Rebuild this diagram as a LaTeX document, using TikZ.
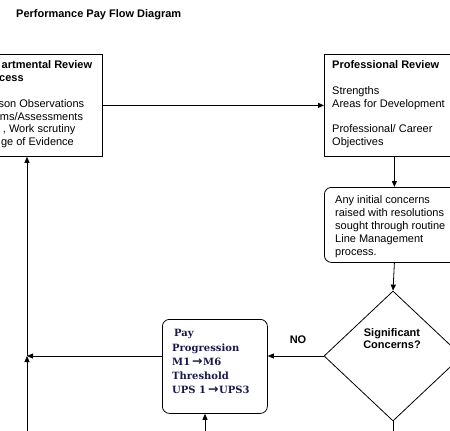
\documentclass[tikz,border=0pt]{standalone}
\usepackage{fontspec}
\setmainfont{Liberation Sans}
\newfontfamily\payfont{DejaVu Serif}
\newfontfamily\arrfont{DejaVu Sans}
\usetikzlibrary{arrows.meta,shapes.geometric}
\definecolor{navy}{RGB}{25,25,75}
\newcommand{\payarrow}{\hspace{2pt}{\arrfont\bfseries\fontsize{12.5}{14.2}\selectfont →}\hspace{0.5pt}}
\tikzset{
  box/.style={draw, line width=0.8pt, inner sep=0pt, anchor=north west},
  rbox/.style={box, rounded corners=7pt},
  txt/.style={inner sep=0pt, anchor=north west, align=left, font=\fontsize{11}{12.8}\selectfont},
  paytxt/.style={inner sep=0pt, anchor=north west, align=left, text=navy, font=\payfont\bfseries\fontsize{10}{14.2}\selectfont},
  arr/.style={line width=0.8pt, -{Triangle[length=6pt,width=5pt]}},
  ln/.style={line width=0.8pt}
}
\begin{document}
\begin{tikzpicture}[x=1pt,y=-1pt]
\useasboundingbox (0,0) rectangle (450,431);
\clip (0,0) rectangle (450,431);
% title
\node[inner sep=0pt, anchor=base west, font=\bfseries\fontsize{11}{13}\selectfont] (title) at (16,17) {Performance Pay Flow Diagram};
% boxes
\node[box, minimum width=110pt, minimum height=102pt] (dep) at (-8,54) {};
\node[box, minimum width=140pt, minimum height=102pt] (prof) at (324,54) {};
\node[rbox, minimum width=140pt, minimum height=75pt] (init) at (324,187) {};
\node[draw, line width=0.8pt, diamond, inner sep=0pt, minimum width=138pt, minimum height=130pt] (diam) at (393,356) {};
\node[rbox, minimum width=105pt, minimum height=94pt] (pay) at (162,319) {};
% texts
\node[txt] (deptxt) at (0,60.8) {\hspace*{1.5pt}\textbf{artmental Review}\\\hspace*{-1pt}\textbf{cess}\\\mbox{}\\\hspace*{-1.6pt}son Observations\\\hspace*{-0.3pt}ms/Assessments\\\hspace*{2.7pt}, Work scrutiny\\\hspace*{0.9pt}ge of Evidence};
\node[txt] (proftxt) at (332,60.8) {\textbf{Professional Review}\\\mbox{}\\Strengths\\Areas for Development\\\mbox{}\\Professional/ Career\\Objectives};
\node[txt] (inittxt) at (335,195.8) {Any initial concerns\\raised with resolutions\\sought through routine\\Line Management\\process.};
\node[inner sep=0pt, align=center, font=\bfseries\fontsize{11}{12.8}\selectfont] (diamtxt) at (392,338.5) {Significant\\Concerns?};
\node[paytxt] (paytext) at (172,329.4) {\hspace{2pt}Pay\\Progression\\M1\payarrow M6\\Threshold\\UPS 1\payarrow UPS3};
\node[inner sep=0pt, font=\bfseries\fontsize{11}{13}\selectfont] (no) at (298,340) {NO};
% junction and free ends
\coordinate (j) at (27,356);
\coordinate (b1) at (27,440);
\coordinate (b2) at (205,440);
\coordinate (b3) at (393,440);
% connectors
\draw[arr] (dep.east) -- (prof.west);
\draw[arr] (prof.south) -- (init.north);
\draw[arr] (init.south) -- (diam.north);
\draw[arr] (diam.west) -- (diam.west -| pay.east);
\draw[arr] (pay.west |- j) -- (j);
\draw[arr] (b1) -- (j);
\draw[arr] (j) -- (j |- dep.south);
\draw[arr] (b2) -- (b2 |- pay.south);
\draw[ln] (diam.south) -- (b3);
\end{tikzpicture}
\end{document}
